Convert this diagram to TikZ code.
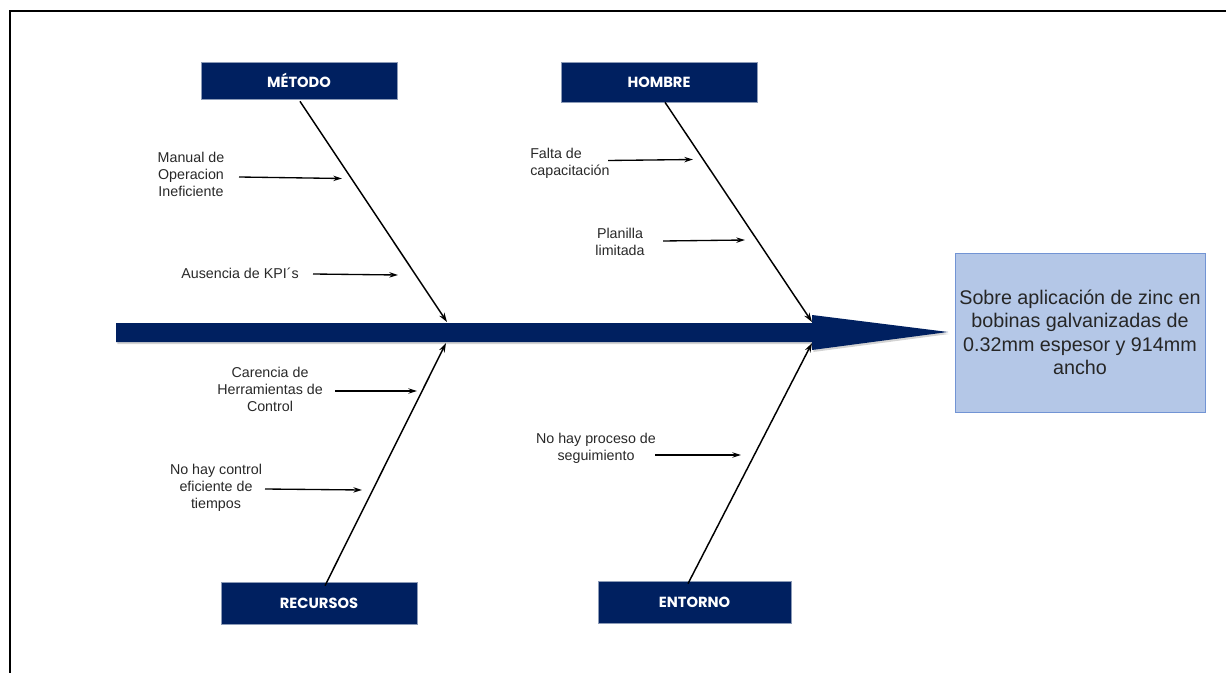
\documentclass[tikz,border=0pt]{standalone}
\usepackage{fontspec}
\setmainfont{Liberation Sans}
\newfontfamily\headfont{Poppins}
\usetikzlibrary{arrows.meta,shadows}
\definecolor{navy}{RGB}{0,32,96}
\definecolor{effectfill}{RGB}{180,199,231}
\definecolor{effectdraw}{RGB}{114,148,212}
\definecolor{txtgray}{RGB}{40,40,40}
\tikzset{
  cat/.style={fill=navy, draw=navy!45!white, line width=0.5pt, text=white,
    font=\headfont\bfseries\fontsize{11}{13}\selectfont,
    minimum width=147pt, inner sep=0pt},
  cause/.style={text=txtgray, font=\fontsize{10.7}{12.75}\selectfont, align=center, inner sep=0pt},
  bone/.style={line width=1.1pt, -{Stealth[length=7pt,width=4.5pt]}},
  causearrow/.style={line width=1pt, -{Stealth[length=6.5pt,width=4pt]}},
}
\begin{document}
\begin{tikzpicture}[x=0.75pt,y=-0.75pt]
\useasboundingbox (0,0) rectangle (1226,673);
% frame
\draw[line width=1.6pt] (10,673) -- (10,11) -- (1226,11);

% spine
\fill[navy, drop shadow={shadow xshift=1pt, shadow yshift=-1.5pt, opacity=0.35}]
  (116,323) -- (812,323) -- (812,315) -- (948,332) -- (812,350) -- (812,342) -- (116,342) -- cycle;

% category boxes
\node[cat, minimum height=27.75pt] (met) at (299,80.5) {MÉTODO};
\node[cat, minimum height=30pt] (hom) at (659,82) {HOMBRE};
\node[cat, minimum height=31.5pt] (rec) at (319,603) {RECURSOS};
\node[cat, minimum height=31.5pt, minimum width=145pt] (ent) at (694.5,602) {ENTORNO};

% effect box
\node[fill=effectfill, draw=effectdraw, line width=0.6pt, minimum width=187.5pt, minimum height=119.25pt,
  align=center, inner sep=1pt, text=black!85,
  font=\fontsize{14.8}{17.6}\selectfont] (eff) at (1080,332.5)
  {Sobre aplicación de zinc en\\bobinas galvanizadas de\\0.32mm espesor y 914mm\\ancho};

% bone end points on the spine
\coordinate (mEnd) at (447,322);
\coordinate (hEnd) at (812,322);
\coordinate (rEnd) at (446,343);
\coordinate (eEnd) at (812,343);

\draw[bone] ([xshift=0.75pt,yshift=-1.5pt]met.south) -- (mEnd);
\draw[bone] ([xshift=4.5pt]hom.south) -- (hEnd);
\draw[bone] ([xshift=4.5pt,yshift=-3pt]rec.north) -- (rEnd);
\draw[bone] ([xshift=-4.9pt,yshift=-2.25pt]ent.north) -- (eEnd);

% causes
\node[cause] (c1) at (191,174.5) {Manual de\\Operacion\\Ineficiente};
\coordinate (c1s) at (239,177); \coordinate (c1e) at (342,178.5);
\draw[causearrow] (c1s) -- (c1e);

\node[cause] (c2) at (240,273.5) {Ausencia de KPI´s};
\coordinate (c2s) at (313,274); \coordinate (c2e) at (398,275);
\draw[causearrow] (c2s) -- (c2e);

\node[cause, align=left, anchor=west] (c3) at (530,163.5) {Falta de\\capacitación};
\coordinate (c3s) at (608,160.5); \coordinate (c3e) at (693,159.5);
\draw[causearrow] (c3s) -- (c3e);

\node[cause] (c4) at (620,241.5) {Planilla\\limitada};
\coordinate (c4s) at (663,241); \coordinate (c4e) at (745,240);
\draw[causearrow] (c4s) -- (c4e);

\node[cause] (c5) at (270,389) {Carencia de\\Herramientas de\\Control};
\coordinate (c5s) at (335,391); \coordinate (c5e) at (417,391);
\draw[causearrow] (c5s) -- (c5e);

\node[cause] (c6) at (216,488) {No hay control\\eficiente de\\tiempos};
\coordinate (c6s) at (265,489); \coordinate (c6e) at (362,490);
\draw[causearrow] (c6s) -- (c6e);

\node[cause] (c7) at (596,448.5) {No hay proceso de\\seguimiento};
\coordinate (c7s) at (655,455); \coordinate (c7e) at (741,455);
\draw[causearrow] (c7s) -- (c7e);
\end{tikzpicture}
\end{document}
